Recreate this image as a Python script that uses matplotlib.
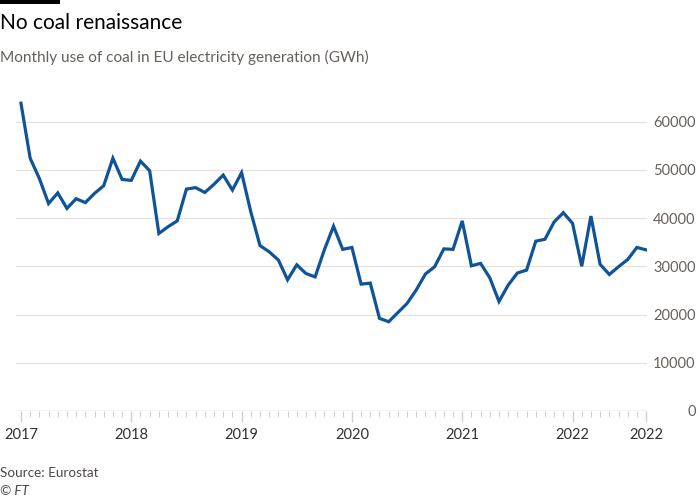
import matplotlib
matplotlib.use("Agg")
import matplotlib.pyplot as plt
from matplotlib.ticker import FixedLocator, MultipleLocator
from matplotlib.patches import Rectangle

# Monthly coal use in EU electricity generation (GWh), Jan 2017 - Sep 2022
months = [f"{y}-{m:02d}" for y in range(2017, 2023) for m in range(1, 13)][:69]
values = [
    63800, 52400, 48200, 43000, 45200, 42000, 44000, 43200, 45100, 46700, 52400, 48000,  # 2017
    47800, 51800, 49800, 36800, 38200, 39400, 46000, 46300, 45300, 47000, 48900, 45800,  # 2018
    49400, 41300, 34300, 33000, 31300, 27200, 30300, 28500, 27800, 33400, 38300, 33500,  # 2019
    33900, 26300, 26500, 19200, 18500, 20400, 22300, 25100, 28400, 29900, 33600, 33500,  # 2020
    39400, 30100, 30600, 27600, 22700, 26100, 28600, 29200, 35200, 35600, 39200, 41100,  # 2021
    38900, 30000, 40400, 30400, 28300, 29900, 31400, 33900, 33400,                       # 2022
]
year_labels = ["2017", "2018", "2019", "2020", "2021", "2022", "2022"]
y_ticks = [0, 10000, 20000, 30000, 40000, 50000, 60000]

x = list(range(len(values)))
major_pos = [0, 12, 24, 36, 48, 60, len(values) - 1]

W, H = 700, 500
fig = plt.figure(figsize=(7, 5), dpi=100)
fig.patch.set_facecolor("white")

plt.rcParams["font.family"] = ["Lato", "DejaVu Sans"]

ax_l, ax_r, ax_t, ax_b = 16, 647, 95, 411
ax = fig.add_axes([ax_l / W, 1 - ax_b / H, (ax_r - ax_l) / W, (ax_b - ax_t) / H])
ax.set_facecolor("white")

ax.plot(x, values, color="#0f5499", lw=2.3, solid_joinstyle="miter", zorder=3)

ax.set_xlim(-0.54, 68.1)
ax.set_ylim(0, 65500)

for s in ax.spines.values():
    s.set_visible(False)

ax.set_yticks(y_ticks)
ax.set_yticklabels([str(v) for v in y_ticks])
ax.yaxis.tick_right()
ax.tick_params(axis="y", length=0, pad=35, labelsize=10.5, labelcolor="#66605c")
for lab in ax.get_yticklabels():
    lab.set_horizontalalignment("right")
ax.grid(axis="y", color="#e9e1da", lw=0.9, zorder=0)

ax.xaxis.set_major_locator(FixedLocator(major_pos))
ax.set_xticklabels(year_labels)
ax.xaxis.set_minor_locator(MultipleLocator(1))
ax.tick_params(axis="x", which="major", direction="out", length=8, width=1,
               color="#d9cfc6", pad=4, labelsize=10.5, labelcolor="#33302e")
ax.tick_params(axis="x", which="minor", direction="out", length=4, width=0.8,
               color="#d9cfc6")
ax.axhline(0, color="#d9cfc6", lw=1, zorder=1)

# Header / footer
fig.patches.append(Rectangle((0, 1 - 4 / H), 60 / W, 4 / H, transform=fig.transFigure,
                             facecolor="black", edgecolor="none"))
fig.text(0, 1 - 23 / H, "No coal renaissance", fontsize=15, color="#000000",
         va="center", ha="left")
fig.text(0, 1 - 57 / H, "Monthly use of coal in EU electricity generation (GWh)",
         fontsize=11.1, color="#66605c", va="center", ha="left")
fig.text(0, 1 - 473 / H, "Source: Eurostat", fontsize=9.7, color="#4d4845",
         va="center", ha="left")
fig.text(0, 1 - 491 / H, "© FT", fontsize=9.7, color="#4d4845", style="italic",
         va="center", ha="left")

fig.savefig("out.png", dpi=100, facecolor="white")
